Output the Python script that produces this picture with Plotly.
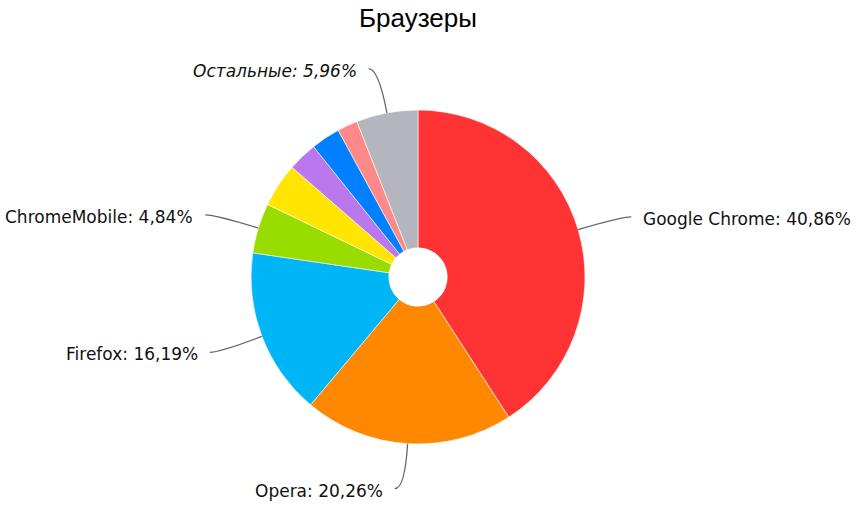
import numpy as np
import plotly.graph_objects as go

# data
browsers = ["Google Chrome", "Opera", "Firefox", "ChromeMobile", "Яндекс.Браузер",
            "Safari", "Internet Explorer", "Edge", "Остальные"]
shares = [40.86, 20.26, 16.19, 4.84, 4.25, 2.85, 2.82, 1.97, 5.96]
show_label = [True, True, True, True, False, False, False, False, True]
italic_label = [False, False, False, False, False, False, False, False, True]
colors = ["#FF3333", "#FF8800", "#00B5F5", "#99DD00", "#FFE500",
          "#BB77EE", "#0080FF", "#FF8888", "#B5B5BD"]

W, H = 861, 506
cx, cy, R = 418, 277, 167  # pie centre / radius in pixels


def px(x):
    return x / W


def py(y):
    return 1 - y / H


fig = go.Figure()
fig.add_trace(go.Pie(
    labels=browsers,
    values=shares,
    sort=False,
    direction="clockwise",
    rotation=0,
    hole=0.175,
    textinfo="none",
    marker=dict(colors=colors, line=dict(color="white", width=0.6)),
    domain=dict(x=[px(cx - R), px(cx + R)], y=[py(cy + R), py(cy - R)]),
    showlegend=False,
    hovertemplate="%{label}: %{percent}<extra></extra>",
))

# leader lines + labels, positioned from slice mid angles
total = sum(shares)
cum = np.cumsum([0] + shares[:-1])
shapes = []
annotations = []
for i, name in enumerate(browsers):
    if not show_label[i]:
        continue
    mid = (cum[i] + shares[i] / 2) / total * 2 * np.pi
    dx, dy = np.sin(mid), -np.cos(mid)
    x0, y0 = cx + R * dx, cy + R * dy
    kx, ky = cx + (R + 45) * dx, cy + (R + 45) * dy
    side = 1 if dx >= 0 else -1
    ex, ey = kx + 10 * side, ky
    path = "M %f,%f Q %f,%f %f,%f" % (px(x0), py(y0), px(kx), py(ky), px(ex), py(ey))
    shapes.append(dict(type="path", path=path, xref="paper", yref="paper",
                       line=dict(color="#666666", width=1.3)))
    txt = "%s: %s%%" % (name, ("%.2f" % shares[i]).replace(".", ","))
    if italic_label[i]:
        txt = "<i>" + txt + "</i>"
    annotations.append(dict(
        x=px(ex + 10 * side), y=py(ey + 2), xref="paper", yref="paper",
        text=txt, showarrow=False,
        xanchor="left" if side > 0 else "right", yanchor="middle",
        font=dict(family="DejaVu Sans, Verdana, sans-serif", size=17, color="#111111"),
    ))

annotations.append(dict(
    x=px(cx), y=py(18), xref="paper", yref="paper", text="Браузеры",
    showarrow=False, xanchor="center", yanchor="middle",
    font=dict(family="Liberation Sans, Arial", size=26, color="#000000"),
))

fig.update_layout(
    width=W, height=H,
    margin=dict(l=0, r=0, t=0, b=0),
    paper_bgcolor="white",
    plot_bgcolor="white",
    shapes=shapes,
    annotations=annotations,
)

# drop the default page margin so the figure sits at the window's corner
fig.write_html("out.html", config={"displayModeBar": False},
               post_script="document.body.style.margin='0';")
